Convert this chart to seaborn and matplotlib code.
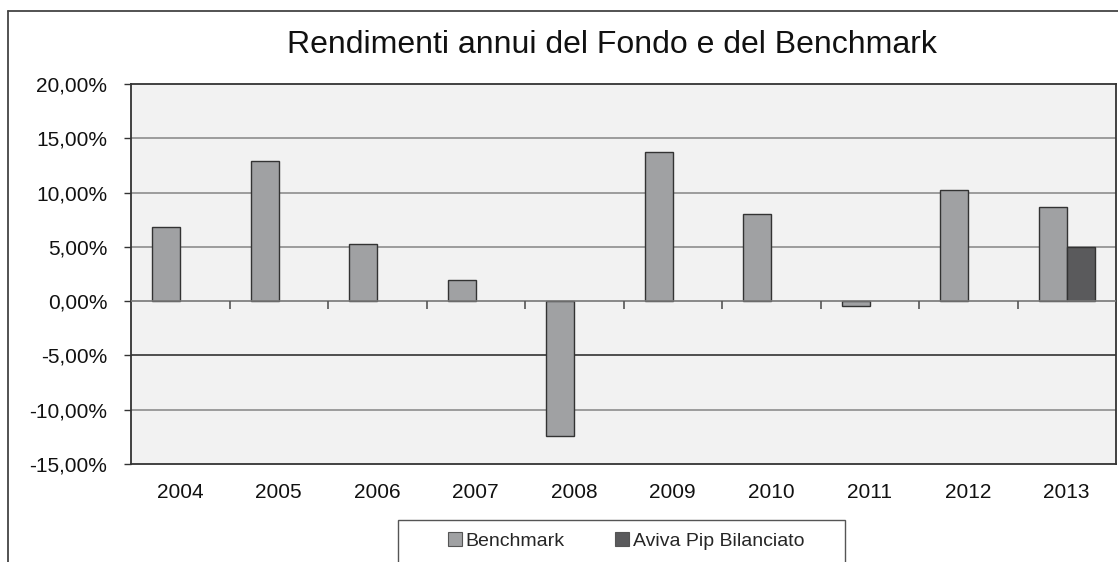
import numpy as np
import pandas as pd
import matplotlib
matplotlib.use("Agg")
import matplotlib.pyplot as plt
import matplotlib.patches as mpatches
from matplotlib.lines import Line2D
import seaborn as sns

# ---- data ----
years = ["2004", "2005", "2006", "2007", "2008", "2009", "2010", "2011", "2012", "2013"]
benchmark = [6.87, 12.91, 5.28, 1.99, -12.45, 13.78, 8.00, -0.43, 10.25, 8.65]
aviva = [np.nan, np.nan, np.nan, np.nan, np.nan, np.nan, np.nan, np.nan, np.nan, 4.95]
series_names = ["Benchmark", "Aviva Pip Bilanciato"]
y_ticks = [-15, -10, -5, 0, 5, 10, 15, 20]
title = "Rendimenti annui del Fondo e del Benchmark"

df = pd.DataFrame({
    "Anno": years * 2,
    "Rendimento": benchmark + aviva,
    "Serie": [series_names[0]] * len(years) + [series_names[1]] * len(years),
})

sns.set_theme(style="white")
plt.rcParams["font.family"] = ["Liberation Sans", "DejaVu Sans"]

W, H = 1118, 562
fig = plt.figure(figsize=(W / 100, H / 100), dpi=100)
fig.patch.set_facecolor("white")

ax = fig.add_axes([131 / W, 1 - 464 / H, (1116 - 131) / W, (464 - 84) / H])
ax.set_facecolor("#f2f2f2")

colors = {"Benchmark": "#a0a1a3", "Aviva Pip Bilanciato": "#5a5a5c"}
sns.barplot(data=df, x="Anno", y="Rendimento", hue="Serie", hue_order=series_names,
            order=years, palette=colors, width=0.57, errorbar=None,
            edgecolor="#333333", linewidth=1.0, saturation=1, legend=False, ax=ax, zorder=3)

ax.set_ylim(y_ticks[0], y_ticks[-1])
ax.set_xlim(-0.5, len(years) - 0.5)
ax.set_yticks(y_ticks)
ax.set_yticklabels([f"{v:.2f}".replace(".", ",") + "%" for v in y_ticks], fontsize=15, color="#111111")
ax.set_xticks(range(len(years)))
ax.set_xticklabels(years, fontsize=15, color="#111111")
ax.set_xlabel("")
ax.set_ylabel("")

ax.tick_params(axis="y", length=5, width=1, color="#333333", pad=12, left=True)
ax.tick_params(axis="x", length=0, pad=14)

# gridlines
for v in y_ticks[1:-1]:
    if v == 0:
        continue
    c = "#222222" if v == -5 else "#858585"
    ax.axhline(v, color=c, lw=1.1, zorder=1)
# zero axis line with category separators
ax.axhline(0, color="#777777", lw=1.2, zorder=4)
ax.plot([i + 0.5 for i in range(len(years) - 1)], [0] * (len(years) - 1),
        linestyle="none", marker=3, markersize=6, markeredgewidth=1.2,
        color="#555555", zorder=4)

for s in ax.spines.values():
    s.set_visible(True)
    s.set_color("#333333")
    s.set_linewidth(1.3)

# title
fig.text(612 / W, 1 - 45 / H, title, ha="center", va="center", fontsize=23, color="#111111")

# outer frame (left and top lines)
fig.add_artist(Line2D([8 / W, 8 / W], [0, 1 - 11 / H], transform=fig.transFigure,
                      color="#444444", lw=1.3))
fig.add_artist(Line2D([8 / W, 1], [1 - 11 / H, 1 - 11 / H], transform=fig.transFigure,
                      color="#444444", lw=1.3))

# legend box
fig.add_artist(mpatches.Rectangle((398 / W, -10 / H), (845 - 398) / W, 52 / H,
                                  transform=fig.transFigure, facecolor="white",
                                  edgecolor="#555555", lw=1.0))
handles = [mpatches.Patch(facecolor=colors[n], edgecolor="#555555", lw=0.8, label=n) for n in series_names]
fig.legend(handles=handles, loc="center", bbox_to_anchor=(626 / W, 1 - 541 / H), ncol=2,
           frameon=False, fontsize=14, handlelength=0.7, handleheight=0.7,
           handletextpad=0.2, columnspacing=2.6)

fig.savefig("out.png", dpi=100)
